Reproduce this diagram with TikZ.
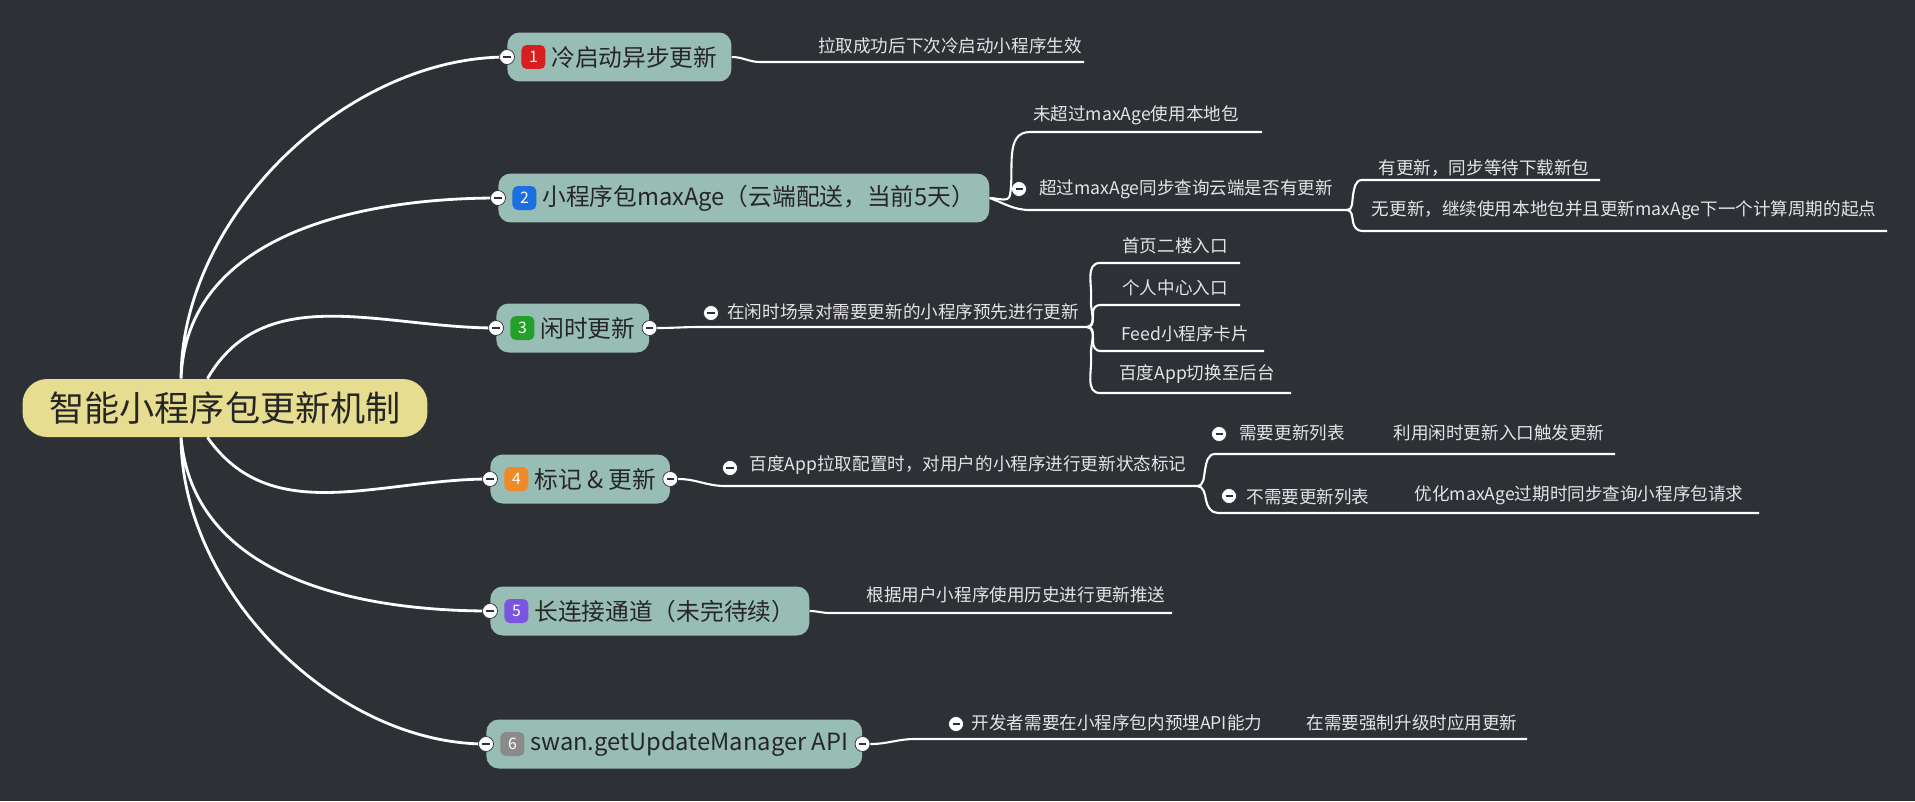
\documentclass[tikz,border=0pt]{standalone}
\usepackage{fontspec}
\setmainfont{Noto Sans CJK SC}
\usetikzlibrary{positioning}
\definecolor{bgdark}{HTML}{2D3035}
\definecolor{topicfill}{HTML}{98BDB4}
\definecolor{rootfill}{HTML}{E7DD90}
\definecolor{leaftext}{HTML}{E4E4E4}
\definecolor{bred}{HTML}{D81E1E}
\definecolor{bblue}{HTML}{1B6FE0}
\definecolor{bgreen}{HTML}{22A02A}
\definecolor{borange}{HTML}{EE8A2A}
\definecolor{bpurple}{HTML}{7B55E0}
\definecolor{bgray}{HTML}{8A8A8A}

\tikzset{
  root/.style = {fill=rootfill, rounded corners=14pt, minimum width=8.1cm,
                 minimum height=1.16cm, font=\fontsize{20}{24}\selectfont, text=black!85},
  topic/.style = {fill=topicfill, rounded corners=7pt, minimum height=0.98cm,
                  inner xsep=8pt, font=\fontsize{13.5}{16}\selectfont, text=black!85},
  badge/.style = {rounded corners=3pt, minimum size=0.48cm, inner sep=0pt,
                  text=white, font=\fontsize{9}{10}\selectfont},
  leaf/.style = {text=leaftext, font=\fontsize{10}{12}\selectfont, inner sep=1pt},
  fold/.style = {circle, fill=white, draw=bgdark, minimum size=0.3cm, inner sep=0pt,
                 path picture={\draw[bgdark, line width=1.2pt]
                   ([xshift=-2pt]path picture bounding box.center) --
                   ([xshift=2pt]path picture bounding box.center);}},
  branch/.style = {draw=white, line width=1.6pt},
  twig/.style = {draw=white, line width=1.2pt},
}

\begin{document}
\begin{tikzpicture}[x=0.02cm, y=-0.02cm]

    % Background
    \fill[bgdark] (0,0) rectangle (1915,801);

    % Root
    \node (root) [root] at (225,408) {智能小程序包更新机制};

    % Topics
    \node (t1) [topic, anchor=west] at (507,57) {\hspace*{17pt}冷启动异步更新};
    \node (t2) [topic, anchor=west] at (498,198) {\hspace*{17pt}小程序包maxAge（云端配送，当前5天）};
    \node (t3) [topic, anchor=west] at (496,328) {\hspace*{17pt}闲时更新};
    \node (t4) [topic, anchor=west] at (490,479) {\hspace*{17pt}标记 \& 更新};
    \node (t5) [topic, anchor=west] at (490,611) {\hspace*{17pt}长连接通道（未完待续）};
    \node (t6) [topic, anchor=west] at (486,744) {\hspace*{17pt}swan.getUpdateManager API};

    % Badges
    \node (b1) [badge, fill=bred, right=8pt of t1.west] {1};
    \node (b2) [badge, fill=bblue, right=8pt of t2.west] {2};
    \node (b3) [badge, fill=bgreen, right=8pt of t3.west] {3};
    \node (b4) [badge, fill=borange, right=8pt of t4.west] {4};
    \node (b5) [badge, fill=bpurple, right=8pt of t5.west] {5};
    \node (b6) [badge, fill=bgray, right=8pt of t6.west] {6};

    % Root branches
    \path[branch]
        ([xshift=-25pt]root.north) to[out=90, in=180, looseness=0.9] (t1.west)
        ([xshift=-25pt]root.north) to[out=88, in=180] (t2.west)
        ([xshift=-10pt]root.north) to[out=60, in=180] (t3.west)
        ([xshift=-10pt]root.south) to[out=-55, in=180] (t4.west)
        ([xshift=-25pt]root.south) to[out=-85, in=180] (t5.west)
        ([xshift=-25pt]root.south) to[out=-90, in=180, looseness=0.9] (t6.west);

    % Fold markers on topics
    \foreach \t in {t1,t2,t3,t4,t5,t6}
        \node [fold] at (\t.west) {};
    \node (f3) [fold] at (t3.east) {};
    \node (f4) [fold] at (t4.east) {};
    \node (f6) [fold] at (t6.east) {};

    % Topic 1
    \node (l1) [leaf, anchor=south] at (950,56) {拉取成功后下次冷启动小程序生效};
    \coordinate (l1e) at (1084,62);
    \path[twig] (t1.east) to[out=0, in=180] (760,62) -- (l1e);

    % Topic 2
    \node (l2a) [leaf, anchor=south] at (1136,127) {未超过maxAge使用本地包};
    \node (l2b) [leaf, anchor=south] at (1186,201) {超过maxAge同步查询云端是否有更新};
    \node (f2b) [fold] at (1019,189) {};
    \node (l2c) [leaf, anchor=south] at (1484,178) {有更新，同步等待下载新包};
    \node (l2d) [leaf, anchor=south] at (1624,222) {无更新，继续使用本地包并且更新maxAge下一个计算周期的起点};
    \path[twig] (t2.east) to[out=0, in=-100] (1010,195) to[out=80, in=180] (1030,132) -- (1262,132);
    \path[twig] (t2.east) to[out=-20, in=180] (1030,210) -- (1347,210);
    \path[twig] (1347,210) to[out=0, in=-100] (1353,195) to[out=80, in=180] (1362,180) -- (1600,180);
    \path[twig] (1347,210) to[out=0, in=100] (1353,222) to[out=-80, in=180] (1362,231) -- (1887,231);

    % Topic 3
    \node (l3) [leaf, anchor=south] at (903,322) {在闲时场景对需要更新的小程序预先进行更新};
    \node (f3a) [fold] at (711,313) {};
    \path[twig] (f3) to[out=0, in=180] (700,327) -- (1087,327);
    \node (l3a) [leaf, anchor=south] at (1175,256) {首页二楼入口};
    \node (l3b) [leaf, anchor=south] at (1175,298) {个人中心入口};
    \node (l3c) [leaf, anchor=south] at (1185,344) {Feed小程序卡片};
    \node (l3d) [leaf, anchor=south] at (1197,386) {百度App切换至后台};
    \path[twig] (1087,327) to[out=0, in=-95] (1091,300) to[out=85, in=180] (1100,263) -- (1240,263);
    \path[twig] (1087,327) to[out=0, in=-90] (1093,312) to[out=90, in=180] (1100,305) -- (1240,305);
    \path[twig] (1087,327) to[out=0, in=90] (1093,342) to[out=-90, in=180] (1100,351) -- (1264,351);
    \path[twig] (1087,327) to[out=0, in=95] (1091,355) to[out=-85, in=180] (1100,393) -- (1291,393);

    % Topic 4
    \node (l4) [leaf, anchor=south] at (968,477) {百度App拉取配置时，对用户的小程序进行更新状态标记};
    \node (f4a) [fold] at (730,468) {};
    \path[twig] (f4) to[out=0, in=180] (725,486) -- (1197,486);
    \node (f4b) [fold] at (1219,434) {};
    \node (l4a) [leaf, anchor=south] at (1292,443) {需要更新列表};
    \node (l4b) [leaf, anchor=south] at (1499,443) {利用闲时更新入口触发更新};
    \node (f4c) [fold] at (1229,496) {};
    \node (l4c) [leaf, anchor=south] at (1308,507) {不需要更新列表};
    \node (l4d) [leaf, anchor=south] at (1579,507) {优化maxAge过期时同步查询小程序包请求};
    \path[twig] (1197,486) to[out=0, in=-100] (1205,470) to[out=80, in=180] (1215,454) -- (1615,454);
    \path[twig] (1197,486) to[out=0, in=100] (1206,500) to[out=-80, in=180] (1218,513) -- (1759,513);

    % Topic 5
    \node (l5) [leaf, anchor=south] at (1016,605) {根据用户小程序使用历史进行更新推送};
    \path[twig] (t5.east) to[out=0, in=180] (830,613) -- (1172,613);

    % Topic 6
    \node (f6a) [fold] at (956,724) {};
    \node (l6a) [leaf, anchor=south] at (1117,733) {开发者需要在小程序包内预埋API能力};
    \node (l6b) [leaf, anchor=south] at (1412,733) {在需要强制升级时应用更新};
    \path[twig] (f6) to[out=0, in=180] (915,739) -- (1527,739);

\end{tikzpicture}
\end{document}
